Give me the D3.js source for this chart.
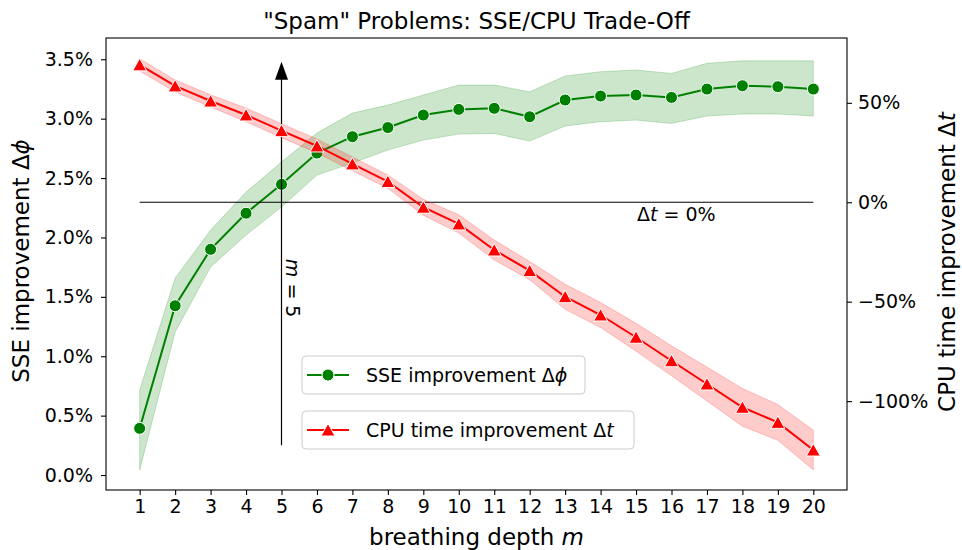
<!DOCTYPE html>
<html>
<head>
<meta charset="utf-8">
<script src="https://cdn.jsdelivr.net/npm/d3@7"></script>
<style>
  body { margin: 0; background: #fff; }
  svg text { font-family: "DejaVu Sans", sans-serif; fill: #000; }
</style>
</head>
<body>
<svg id="chart"></svg>
<script>
// breathing depth m
var depths = [1, 2, 3, 4, 5, 6, 7, 8, 9, 10, 11, 12, 13, 14, 15, 16, 17, 18, 19, 20];

// SSE improvement (%), left axis
var sseValues = [0.393, 1.425, 1.900, 2.204, 2.447, 2.710, 2.848, 2.925, 3.030, 3.078,
                 3.087, 3.016, 3.157, 3.190, 3.199, 3.179, 3.249, 3.277, 3.269, 3.249];
var sseLower = [0.042, 1.204, 1.751, 2.020, 2.256, 2.525, 2.626, 2.736, 2.820, 2.870,
                2.876, 2.811, 2.938, 2.974, 2.988, 2.960, 3.022, 3.039, 3.039, 3.022];
var sseUpper = [0.716, 1.658, 2.062, 2.382, 2.635, 2.879, 3.047, 3.114, 3.199, 3.283,
                3.283, 3.226, 3.359, 3.395, 3.409, 3.381, 3.466, 3.487, 3.487, 3.487];

// CPU time improvement (%), right axis
var cpuValues = [69.1, 58.5, 50.9, 43.9, 36.0, 28.3, 19.3, 10.4, -2.5, -10.9,
                 -24.0, -34.4, -47.5, -56.7, -67.9, -79.7, -91.4, -103.1, -110.7, -124.6];
var cpuLower = [66.0, 55.5, 47.9, 40.5, 32.5, 24.8, 15.8, 7.0, -6.5, -15.5,
                -29.0, -39.0, -53.8, -63.0, -74.9, -87.2, -99.9, -112.6, -119.7, -134.6];
var cpuUpper = [72.2, 61.5, 54.0, 47.4, 39.5, 31.8, 22.8, 13.7, 1.5, -6.3,
                -19.0, -29.8, -41.2, -50.4, -60.9, -72.2, -82.9, -93.6, -101.7, -114.6];

var leftTicks = [0, 0.5, 1.0, 1.5, 2.0, 2.5, 3.0, 3.5];
var rightTicks = [-100, -50, 0, 50];

var W = 962, H = 550;
var box = { left: 106, right: 847, top: 38, bottom: 490 };

var svg = d3.select('#chart').attr('width', W).attr('height', H);

var x = d3.scaleLinear().domain([0.05, 20.95]).range([box.left, box.right]);
var yL = d3.scaleLinear().domain([-0.126, 3.679]).range([box.bottom, box.top]);
var yR = d3.scaleLinear().domain([-144.7, 82.6]).range([box.bottom, box.top]);

var green = '#008000', red = '#ff0000';
var fs = 19, fsBig = 23;

function rows(vals, lo, hi) {
    return depths.map((d, i) => ({ m: d, v: vals[i], lo: lo[i], hi: hi[i] }));
}
var sse = rows(sseValues, sseLower, sseUpper);
var cpu = rows(cpuValues, cpuLower, cpuUpper);

// green band + line
svg.append('path')
    .attr('d', d3.area().x(d => x(d.m)).y0(d => yL(d.lo)).y1(d => yL(d.hi))(sse))
    .attr('fill', green).attr('fill-opacity', 0.2)
    .attr('stroke', green).attr('stroke-opacity', 0.2).attr('stroke-width', 1);
svg.append('path')
    .attr('d', d3.line().x(d => x(d.m)).y(d => yL(d.v))(sse))
    .attr('fill', 'none').attr('stroke', green).attr('stroke-width', 2);
svg.append('g').selectAll('circle').data(sse).join('circle')
    .attr('cx', d => x(d.m)).attr('cy', d => yL(d.v)).attr('r', 6)
    .attr('fill', green).attr('stroke', '#fff').attr('stroke-width', 1);

// reference line at Δt = 0 and arrow at m = 5
svg.append('line')
    .attr('x1', x(1)).attr('x2', x(20)).attr('y1', yR(0)).attr('y2', yR(0))
    .attr('stroke', '#000').attr('stroke-width', 1.2);
var ax = x(5), aTop = yL(3.48), aBot = yL(0.25);
svg.append('line')
    .attr('x1', ax).attr('x2', ax).attr('y1', aBot).attr('y2', aTop + 16)
    .attr('stroke', '#000').attr('stroke-width', 1.2);
svg.append('path')
    .attr('d', `M${ax},${aTop} L${ax - 6.5},${aTop + 18} L${ax + 6.5},${aTop + 18} Z`)
    .attr('fill', '#000');

svg.append('text')
    .attr('transform', `translate(${ax + 4},${yL(1.82)}) rotate(90)`)
    .attr('font-size', fs)
    .call(t => {
        t.append('tspan').attr('font-style', 'italic').text('m');
        t.append('tspan').text(' = 5');
    });

var dtText = svg.append('text')
    .attr('x', x(15) + 1).attr('y', yR(0) + 19)
    .attr('font-size', fs);
dtText.append('tspan').text('Δ');
dtText.append('tspan').attr('font-style', 'italic').text('t');
dtText.append('tspan').text(' = 0%');

// red band + line
svg.append('path')
    .attr('d', d3.area().x(d => x(d.m)).y0(d => yR(d.lo)).y1(d => yR(d.hi))(cpu))
    .attr('fill', red).attr('fill-opacity', 0.2)
    .attr('stroke', red).attr('stroke-opacity', 0.2).attr('stroke-width', 1);
svg.append('path')
    .attr('d', d3.line().x(d => x(d.m)).y(d => yR(d.v))(cpu))
    .attr('fill', 'none').attr('stroke', red).attr('stroke-width', 2);

function tri(cx, cy) {
    return `M${cx},${cy - 6.5} L${cx - 7},${cy + 6} L${cx + 7},${cy + 6} Z`;
}
svg.append('g').selectAll('path').data(cpu).join('path')
    .attr('d', d => tri(x(d.m), yR(d.v)))
    .attr('fill', red).attr('stroke', '#fff').attr('stroke-width', 1);

// frame
svg.append('rect')
    .attr('x', box.left).attr('y', box.top)
    .attr('width', box.right - box.left).attr('height', box.bottom - box.top)
    .attr('fill', 'none').attr('stroke', '#000').attr('stroke-width', 1.1);

// axes
var xAxis = svg.append('g')
    .attr('transform', `translate(0,${box.bottom})`)
    .call(d3.axisBottom(x).tickValues(depths).tickSize(5).tickPadding(5).tickFormat(d3.format('d')));
var leftAxis = svg.append('g')
    .attr('transform', `translate(${box.left},0)`)
    .call(d3.axisLeft(yL).tickValues(leftTicks).tickSize(5).tickPadding(8).tickFormat(d => d.toFixed(1) + '%'));
var rightAxis = svg.append('g')
    .attr('transform', `translate(${box.right},0)`)
    .call(d3.axisRight(yR).tickValues(rightTicks).tickSize(5).tickPadding(6).tickFormat(d3.format('d')));
rightAxis.selectAll('.tick text').text(d => d3.format('d')(d) + '%');

[xAxis, leftAxis, rightAxis].forEach(g => {
    g.select('.domain').remove();
    g.selectAll('.tick line').attr('stroke', '#000').attr('stroke-width', 1.1);
    g.selectAll('.tick text').attr('font-size', fs).attr('font-family', 'DejaVu Sans').attr('fill', '#000');
});

// titles
svg.append('text')
    .attr('x', (box.left + box.right) / 2).attr('y', 29)
    .attr('text-anchor', 'middle').attr('font-size', fsBig)
    .text('"Spam" Problems: SSE/CPU Trade-Off');

var xl = svg.append('text')
    .attr('x', (box.left + box.right) / 2).attr('y', 545)
    .attr('text-anchor', 'middle').attr('font-size', fsBig);
xl.append('tspan').text('breathing depth ');
xl.append('tspan').attr('font-style', 'italic').text('m');

var ylL = svg.append('text')
    .attr('transform', `translate(29,261) rotate(-90)`)
    .attr('text-anchor', 'middle').attr('font-size', fsBig);
ylL.append('tspan').text('SSE improvement Δ');
ylL.append('tspan').attr('font-style', 'italic').text('ϕ');

var ylR = svg.append('text')
    .attr('transform', `translate(955,262) rotate(-90)`)
    .attr('text-anchor', 'middle').attr('font-size', fsBig);
ylR.append('tspan').text('CPU time improvement Δ');
ylR.append('tspan').attr('font-style', 'italic').text('t');

// legends (two separate boxes)
function legend(y0, w, color, marker, label, sym) {
    var g = svg.append('g').attr('transform', `translate(302,${y0})`);
    g.append('rect').attr('width', w).attr('height', 38).attr('rx', 4)
        .attr('fill', '#fff').attr('fill-opacity', 0.8)
        .attr('stroke', '#ccc').attr('stroke-width', 1);
    g.append('line').attr('x1', 5).attr('x2', 47).attr('y1', 19).attr('y2', 19)
        .attr('stroke', color).attr('stroke-width', 2);
    if (marker === 'circle') {
        g.append('circle').attr('cx', 26).attr('cy', 19).attr('r', 6)
            .attr('fill', color).attr('stroke', '#fff').attr('stroke-width', 1);
    } else {
        g.append('path').attr('d', tri(26, 19)).attr('fill', color)
            .attr('stroke', '#fff').attr('stroke-width', 1);
    }
    var t = g.append('text').attr('x', 64).attr('y', 26).attr('font-size', fs);
    t.append('tspan').text(label);
    t.append('tspan').attr('font-style', 'italic').text(sym);
}
legend(356, 283, green, 'circle', 'SSE improvement Δ', 'ϕ');
legend(411, 332, red, 'triangle', 'CPU time improvement Δ', 't');
</script>
</body>
</html>
